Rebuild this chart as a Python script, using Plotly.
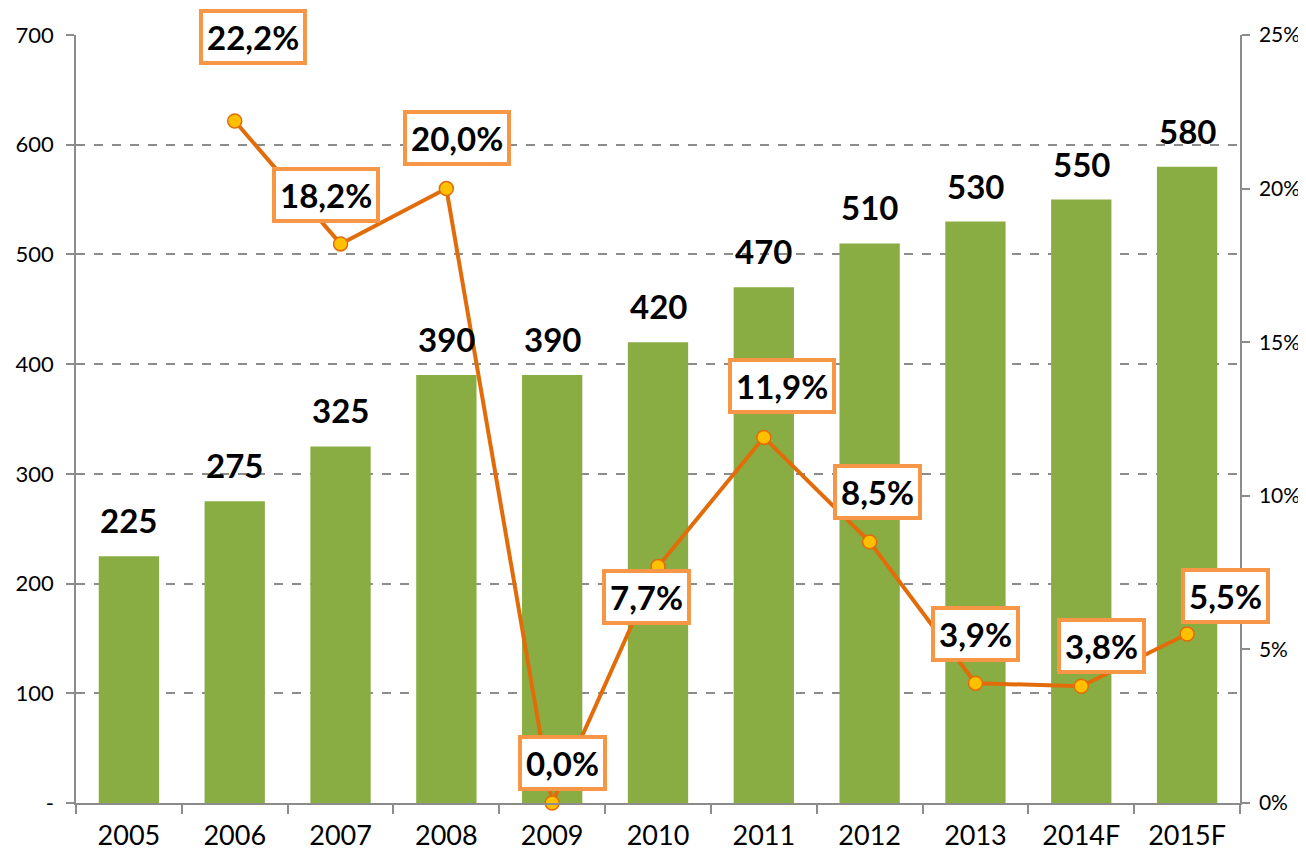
import plotly.graph_objects as go

years = ['2005', '2006', '2007', '2008', '2009', '2010', '2011', '2012', '2013', '2014F', '2015F']
volume = [225, 275, 325, 390, 390, 420, 470, 510, 530, 550, 580]
growth = [None, 22.2, 18.2, 20.0, 0.0, 7.7, 11.9, 8.5, 3.9, 3.8, 5.5]

left_ticks = [0, 100, 200, 300, 400, 500, 600, 700]
left_text = ['-', '100', '200', '300', '400', '500', '600', '700']

# label box offsets (px) relative to each line point
label_offsets = [None, (18, -84), (-15, -49), (11, -51), (10, -40), (-12, 31),
                 (18, -51), (8, -50), (0, -49), (20, -40), (38, -38)]

FONT = 'Lato, "Open Sans", sans-serif'
GREY = '#8c8c8c'
fig = go.Figure()

fig.add_trace(go.Bar(
    x=years, y=volume,
    marker=dict(color='#89AD42', line=dict(width=0)),
    hoverinfo='x+y'
))

fig.add_trace(go.Scatter(
    x=years, y=growth, yaxis='y2', mode='lines+markers',
    line=dict(color='#E36C0A', width=4),
    marker=dict(size=14, color='#FFC000', line=dict(color='#E36C0A', width=1.5)),
    cliponaxis=False, connectgaps=False
))

# numeric-looking categories: annotations use the category index
for i, v in enumerate(volume):
    fig.add_annotation(
        x=i, y=v, xref='x', yref='y', showarrow=False,
        yanchor='bottom', yshift=14,
        text='<b>%d</b>' % v,
        font=dict(size=33, color='black', family=FONT)
    )

for i, (g, off) in enumerate(zip(growth, label_offsets)):
    if g is None:
        continue
    fig.add_annotation(
        x=i, y=g, yref='y2', xref='x',
        text='<b>' + f'{g:.1f}'.replace('.', ',') + '%</b>',
        showarrow=True, arrowcolor='rgba(0,0,0,0)', arrowhead=0,
        ax=off[0], ay=off[1],
        font=dict(size=33, color='black', family=FONT),
        bgcolor='white', bordercolor='#F79646', borderwidth=4, borderpad=4
    )

fig.update_layout(
    width=1298, height=850,
    margin=dict(l=68, r=66, t=27, b=55),
    paper_bgcolor='white', plot_bgcolor='white',
    showlegend=False, bargap=0.43,
    font=dict(family=FONT, size=22, color='black'),
    xaxis=dict(type='category', range=[-0.5, len(years) - 0.5],
               showline=True, linecolor=GREY, linewidth=1.5,
               ticks='outside', tickson='boundaries', ticklen=9, tickcolor=GREY,
               tickwidth=1.5, showgrid=False, tickfont=dict(size=27), tickangle=0,
               ticklabelstandoff=8, automargin=False),
    yaxis=dict(range=[0, 700], tickvals=left_ticks, ticktext=left_text,
               showline=True, linecolor=GREY, linewidth=1.5,
               ticks='outside', ticklen=8, tickcolor=GREY, tickwidth=1.5,
               showgrid=True, gridcolor=GREY, gridwidth=1.5, griddash='dash',
               zeroline=False, tickfont=dict(size=22), ticklabelstandoff=8,
               automargin=False),
    yaxis2=dict(range=[0, 25], dtick=5, ticksuffix='%', overlaying='y', side='right',
                showline=True, linecolor=GREY, linewidth=1.5,
                ticks='outside', ticklen=8, tickcolor=GREY, tickwidth=1.5,
                showgrid=False, zeroline=False, tickfont=dict(size=21),
                ticklabelstandoff=5, automargin=False)
)

fig.write_html('out.html')
